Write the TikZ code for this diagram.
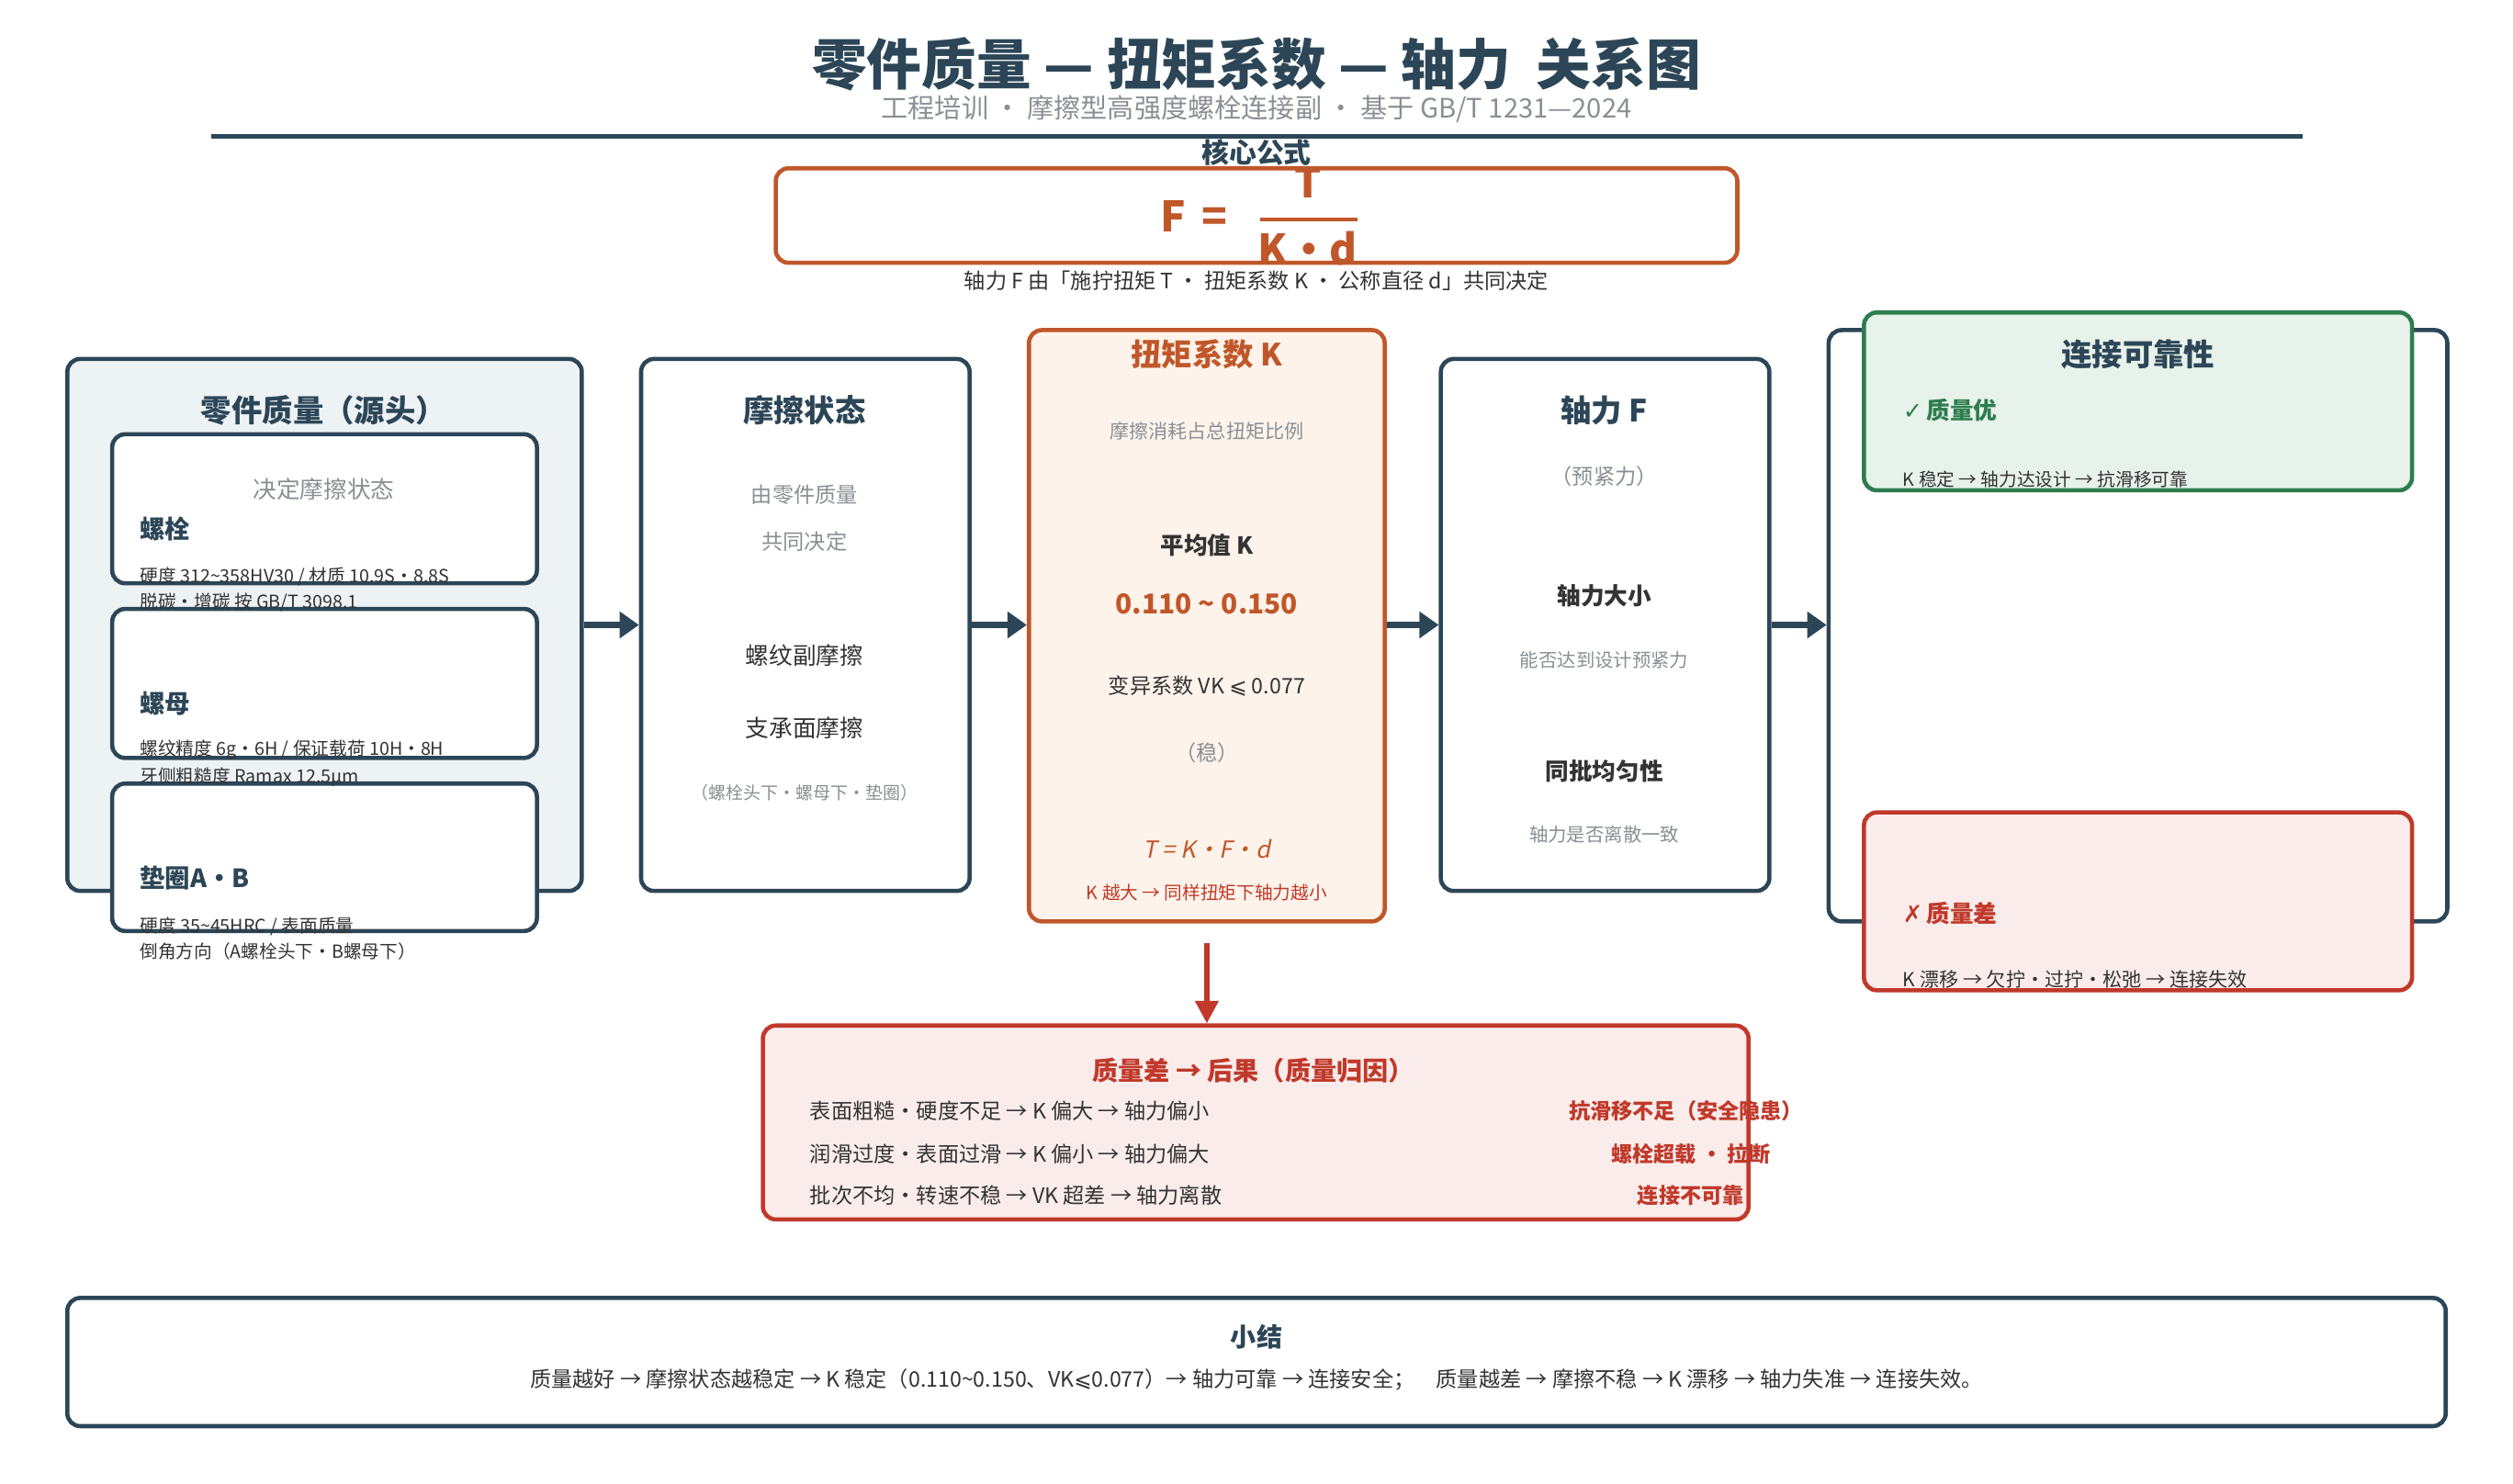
\documentclass[tikz,border=0pt]{standalone}
\usepackage{fontspec}
\setmainfont{Noto Sans CJK SC}
\newfontfamily\dejavu{DejaVu Sans}
\newfontfamily\slant[FakeSlant=0.2]{Noto Sans CJK SC}
\usetikzlibrary{arrows.meta,fit}
\definecolor{dk}{HTML}{2C4657}
\definecolor{og}{HTML}{C0572A}
\definecolor{rd}{HTML}{C0392B}
\definecolor{gn}{HTML}{2E7D4F}
\definecolor{gy}{HTML}{8A8F94}
\definecolor{tx}{HTML}{333333}
\definecolor{bl}{HTML}{EDF2F5}
\definecolor{pe}{HTML}{FEF3EA}
\definecolor{pk}{HTML}{FAECEA}
\definecolor{lg}{HTML}{E7F2EA}
\newcommand\fs[1]{\fontsize{#1}{#1}\selectfont}
\newcommand\sy[1]{{\dejavu #1}}
\newcommand\tl{\string~}
\tikzset{
  box/.style={draw=dk,line width=1.3pt,rounded corners=4pt,inner sep=0pt,fill=white},
  t/.style={inner sep=0pt,text=tx,font=\fs{6.6}},
  ti/.style={inner sep=0pt,text=dk,font=\fs{9.5}\bfseries},
  g/.style={inner sep=0pt,text=gy,font=\fs{6.6}},
  sm/.style={inner sep=0pt,text=tx,font=\fs{5.6},anchor=west},
  hd/.style={inner sep=0pt,text=dk,font=\fs{7.8}\bfseries,anchor=west},
  ar/.style={draw=dk,line width=2pt,-{Triangle[length=6pt,width=8pt]}},
}
\begin{document}
\begin{tikzpicture}[x=0.017449cm,y=-0.017449cm]
\useasboundingbox (0,0) rectangle (1568,926);
% title
\node[inner sep=0,text=dk,font=\fs{17}\bfseries] (title) at (784,40) {零件质量 — 扭矩系数 — 轴力\ \ 关系图};
\node[inner sep=0,text=gy,font=\fs{8.3}] (sub) at (784,68) {工程培训 ・ 摩擦型高强度螺栓连接副 ・ 基于 GB/T 1231—2024};
\draw[dk,line width=1.6pt] (132,85) -- (1437,85);
% formula
\node[box,draw=og,fit={(484,105)(1084,164)}] (fb) {};
\node[inner sep=0,text=dk,font=\fs{8.5}\bfseries] (core) at (784,95) {核心公式};
\node[inner sep=0,text=og,font=\fs{13}\bfseries] (feq) at (745,135) {F\,\ =};
\node[inner sep=0,text=og,font=\fs{13}\bfseries] (fT) at (816,114) {T};
\node[inner sep=0,text=og,font=\fs{13}\bfseries] (fKd) at (816,155) {K·d};
\draw[og,line width=1.2pt] (786,137) -- (847,137);
\node[t] (cap) at (784,175) {轴力 F 由「施拧扭矩 T ・ 扭矩系数 K ・ 公称直径 d」共同决定};
% box 1
\node[box,fill=bl,fit={(42,224)(363,556)}] (b1) {};
\node[ti] (b1t) at (202,256) {零件质量（源头）};
\node[box,fit={(70,271)(335,364)}] (i1) {};
\node[box,fit={(70,380)(335,473)}] (i2) {};
\node[box,fit={(70,489)(335,581)}] (i3) {};
\node[g,font=\fs{7.3}] (d1) at (202,305) {决定摩擦状态};
\node[hd] (lb) at (87,330) {螺栓};
\node[sm] (lb1) at (87,360) {硬度 312\tl358HV30 / 材质 10.9S・8.8S};
\node[sm] (lb2) at (87,376) {脱碳・增碳 按 GB/T 3098.1};
\node[hd] (lm) at (87,439) {螺母};
\node[sm] (lm1) at (87,468) {螺纹精度 6g・6H / 保证载荷 10H・8H};
\node[sm] (lm2) at (87,485) {牙侧粗糙度 Ramax 12.5μm};
\node[hd] (lw) at (87,548) {垫圈A・B};
\node[sm] (lw1) at (87,578) {硬度 35\tl45HRC / 表面质量};
\node[sm] (lw2) at (87,594) {倒角方向（A螺栓头下・B螺母下）};
% box 2
\node[box,fit={(400,224)(605,556)}] (b2) {};
\node[ti] (b2t) at (502,256) {摩擦状态};
\node[g] at (502,309) {由零件质量};
\node[g] at (502,338) {共同决定};
\node[t,font=\fs{7.3}] at (502,409) {螺纹副摩擦};
\node[t,font=\fs{7.3}] at (502,454) {支承面摩擦};
\node[g,font=\fs{5.4}] at (502,495) {（螺栓头下・螺母下・垫圈）};
% box K
\node[box,draw=og,fill=pe,fit={(642,206)(864,575)}] (bk) {};
\node[ti,text=og] (bkt) at (753,221) {扭矩系数 K};
\node[g,font=\fs{6}] at (753,269) {摩擦消耗占总扭矩比例};
\node[t,font=\fs{7.3}\bfseries] at (753,340) {平均值 K};
\node[t,text=og,font=\fs{8.5}\bfseries] at (753,377) {0.110 \tl\ 0.150};
\node[t] at (753,428) {变异系数 VK \sy{⩽} 0.077};
\node[g] at (753,470) {（稳）};
\node[t,text=og,font=\fs{7.3}\slant] at (753,530) {T = K·F·d};
\node[t,text=rd,font=\fs{5.6}] at (753,557) {K 越大 → 同样扭矩下轴力越小};
% box F
\node[box,fit={(899,224)(1104,556)}] (bf) {};
\node[ti] (bft) at (1001,256) {轴力 F};
\node[g] at (1001,297) {（预紧力）};
\node[t,font=\fs{7.3}\bfseries] at (1001,372) {轴力大小};
\node[g,font=\fs{5.8}] at (1001,412) {能否达到设计预紧力};
\node[t,font=\fs{7.3}\bfseries] at (1001,481) {同批均匀性};
\node[g,font=\fs{5.8}] at (1001,521) {轴力是否离散一致};
% reliability
\node[box,fit={(1141,206)(1527,575)}] (br) {};
\node[box,draw=gn,fill=lg,fit={(1163,195)(1505,306)}] (good) {};
\node[box,draw=rd,fill=pk,fit={(1163,507)(1505,618)}] (bad) {};
\node[ti] (brt) at (1334,221) {连接可靠性};
\node[hd,text=gn,font=\fs{7.3}\bfseries] at (1187,256) {\sy{✓}\,质量优};
\node[sm] at (1187,299) {K 稳定 → 轴力达设计 → 抗滑移可靠};
\node[hd,text=rd,font=\fs{7.3}\bfseries] at (1187,570) {\sy{✗}\,质量差};
\node[sm,font=\fs{6}] at (1187,611) {K 漂移 → 欠拧・过拧・松弛 → 连接失效};
% arrows
\draw[ar] (b1.east) -- (b2.west);
\draw[ar] (b2.east) -- (bk.west |- b2.east);
\draw[ar] (bk.east |- bf.west) -- (bf.west);
\draw[ar] (bf.east) -- (br.west |- bf.east);
% consequence
\node[box,draw=rd,fill=pk,fit={(476,640)(1091,761)}] (cons) {};
\draw[draw=rd,line width=1.6pt,-{Triangle[length=7pt,width=7pt]}] (bk.south) ++(0,12) coordinate (ks) (ks) -- (cons.north -| ks);
\node[t,text=rd,font=\fs{8}\bfseries] at (782,668) {质量差 → 后果（质量归因）};
\node[t,anchor=west] at (505,693) {表面粗糙・硬度不足 → K 偏大 → 轴力偏小};
\node[t,anchor=west] at (505,720) {润滑过度・表面过滑 → K 偏小 → 轴力偏大};
\node[t,anchor=west] at (505,746) {批次不均・转速不稳 → VK 超差 → 轴力离散};
\node[t,text=rd,font=\fs{6.6}\bfseries] at (1052,693) {抗滑移不足（安全隐患）};
\node[t,text=rd,font=\fs{6.6}\bfseries] at (1055,720) {螺栓超载 ・ 拉断};
\node[t,text=rd,font=\fs{6.6}\bfseries] at (1055,746) {连接不可靠};
% summary
\node[box,fit={(42,810)(1526,890)}] (sum) {};
\node[t,text=dk,font=\fs{8}\bfseries] at (784,834) {小结};
\node[t] at (784,861) {质量越好 → 摩擦状态越稳定 → K 稳定（0.110\tl0.150、VK\sy{⩽}0.077）→ 轴力可靠 → 连接安全；\quad 质量越差 → 摩擦不稳 → K 漂移 → 轴力失准 → 连接失效。};
\end{tikzpicture}
\end{document}
